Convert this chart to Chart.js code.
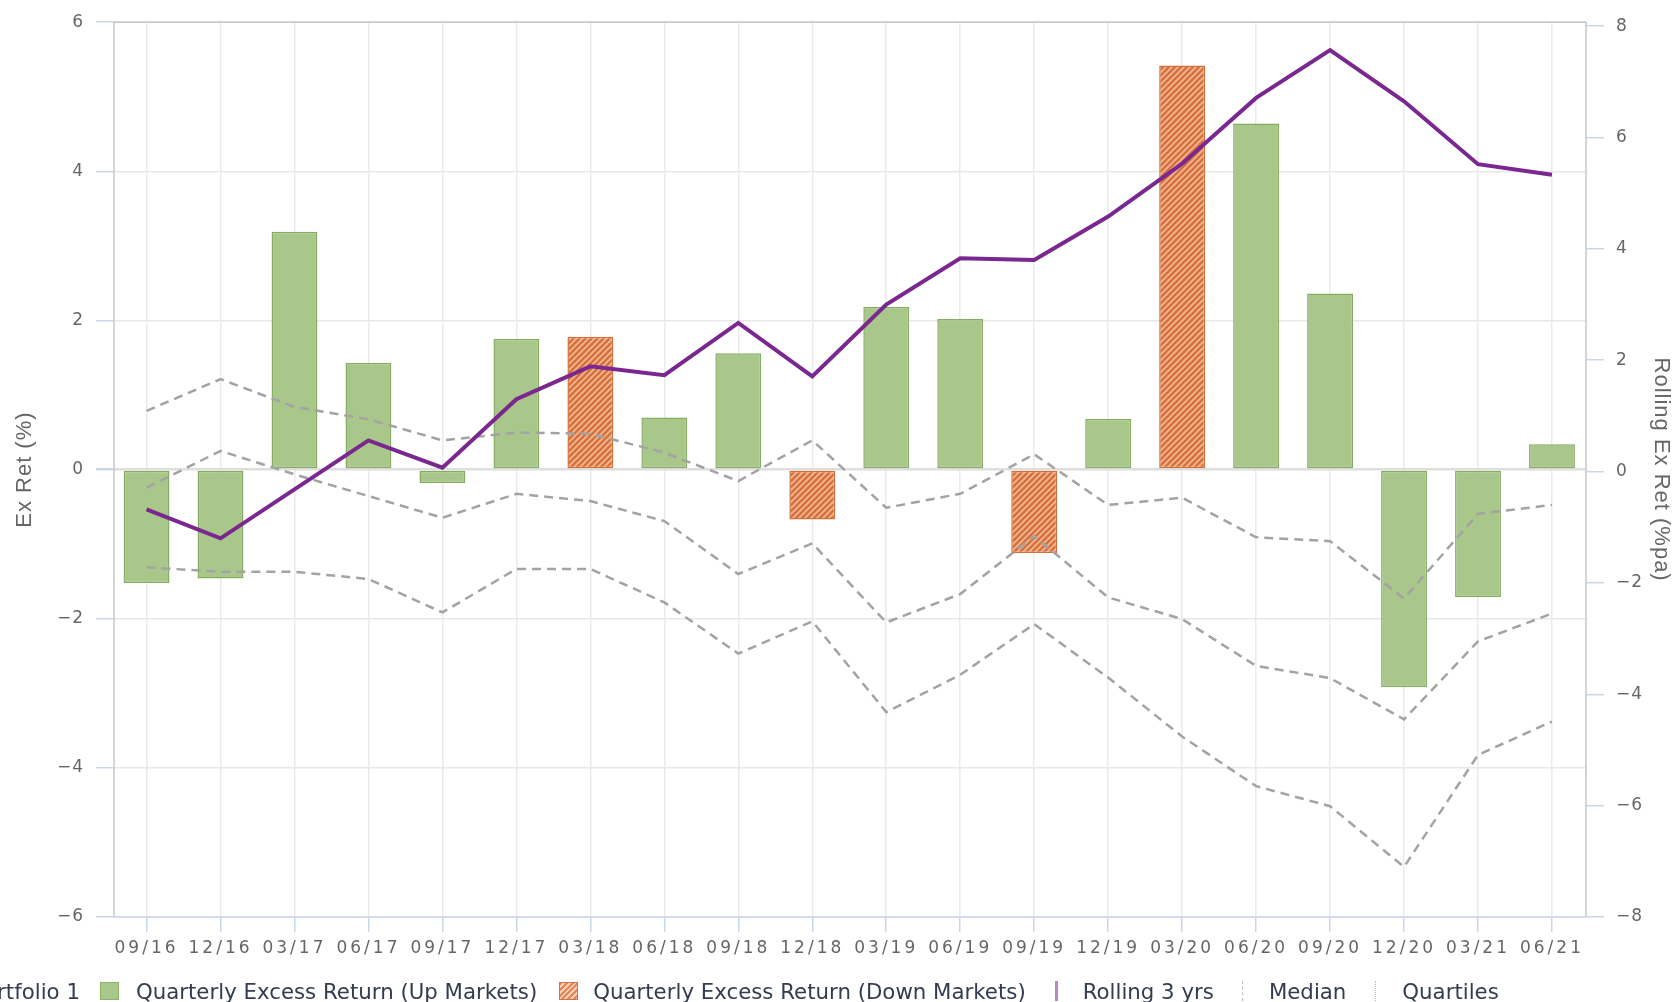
<!DOCTYPE html>
<html>
<head>
<meta charset="utf-8">
<script src="https://cdn.jsdelivr.net/npm/chart.js@4.4.1/dist/chart.umd.min.js"></script>
<style>
  html, body { margin: 0; padding: 0; background: #fff; overflow: hidden; }
  #wrap { position: relative; width: 1677px; height: 1002px; }
  #legend {
    position: absolute; left: -28px; top: 980px; height: 22px;
    display: flex; align-items: center; white-space: nowrap;
    font-family: "DejaVu Sans", Verdana, sans-serif; font-size: 21.3px; color: #333d4d;
  }
  #legend .item { display: flex; align-items: center; }
  #legend .sym { display: inline-block; flex: none; }
</style>
</head>
<body>
<div id="wrap">
  <canvas id="myChart" width="1677" height="1002"></canvas>
  <div id="legend"></div>
</div>
<script>
const quarters = ['09/16', '12/16', '03/17', '06/17', '09/17', '12/17', '03/18', '06/18', '09/18', '12/18',
                  '03/19', '06/19', '09/19', '12/19', '03/20', '06/20', '09/20', '12/20', '03/21', '06/21'];

// quarterly excess return (%), left axis
const upMarkets   = [-1.52, -1.46, 3.19, 1.43, -0.18, 1.75, null, 0.70, 1.56, null,
                     2.18, 2.02, null, 0.68, null, 4.64, 2.36, -2.92, -1.71, 0.34];
const downMarkets = [null, null, null, null, null, null, 1.78, null, null, -0.67,
                     null, null, -1.12, null, 5.42, null, null, null, null, null];

// rolling 3 yrs (%pa), right axis
const rolling3y     = [-0.68, -1.20, -0.32, 0.56, 0.07, 1.30, 1.89, 1.73, 2.67, 1.71,
                       3.00, 3.83, 3.80, 4.58, 5.53, 6.71, 7.57, 6.65, 5.52, 5.33];
const median        = [-0.29, 0.37, -0.05, -0.44, -0.83, -0.40, -0.53, -0.89, -1.84, -1.29,
                       -2.71, -2.20, -1.16, -2.26, -2.65, -3.49, -3.71, -4.45, -3.05, -2.55];
const upperQuartile = [1.09, 1.66, 1.16, 0.94, 0.56, 0.70, 0.68, 0.34, -0.17, 0.56,
                       -0.65, -0.40, 0.31, -0.60, -0.47, -1.18, -1.25, -2.28, -0.76, -0.60];
const lowerQuartile = [-1.72, -1.80, -1.80, -1.93, -2.53, -1.75, -1.75, -2.35, -3.27, -2.69,
                       -4.32, -3.65, -2.74, -3.70, -4.76, -5.65, -6.01, -7.10, -5.09, -4.49];

const leftTicks = [-6, -4, -2, 0, 2, 4, 6];
const rightTicks = [-8, -6, -4, -2, 0, 2, 4, 6, 8];

const tickFont = { family: '"DejaVu Sans", Verdana, sans-serif', size: 17 };
const titleFont = { family: '"Liberation Sans", Arial, sans-serif', size: 22 };
const gray = '#666666';

function hatchPattern() {
    const c = document.createElement('canvas');
    c.width = 6; c.height = 6;
    const g = c.getContext('2d');
    g.fillStyle = '#f1b692';
    g.fillRect(0, 0, 6, 6);
    g.strokeStyle = '#d6703b';
    g.lineWidth = 2.4;
    g.beginPath();
    g.moveTo(-1, 7); g.lineTo(7, -1);
    g.moveTo(-1, 1); g.lineTo(1, -1);
    g.moveTo(5, 7); g.lineTo(7, 5);
    g.stroke();
    return g.createPattern(c, 'repeat');
}

// letter spacing: wide on the x labels, small on y labels and titles
function withSpacing(fn, spacing) {
    return function () {
        const c = this.ctx;
        const prev = c.letterSpacing;
        c.letterSpacing = spacing;
        fn.apply(this, arguments);
        c.letterSpacing = prev;
    };
}
const spacingPlugin = {
    id: 'spacing',
    beforeUpdate(chart) { chart.ctx.letterSpacing = '3px'; },
    beforeDraw(chart) { chart.ctx.letterSpacing = '3px'; },
    afterLayout(chart) {
        Object.values(chart.scales).forEach(s => {
            if (s._spacingWrapped) return;
            s.drawTitle = withSpacing(s.drawTitle, '1px');
            if (s.axis === 'y') s.drawLabels = withSpacing(s.drawLabels, '1px');
            s._spacingWrapped = true;
        });
    }
};

const framePlugin = {
    id: 'frame',
    beforeDatasetsDraw(chart) {
        const { ctx, chartArea: a } = chart;
        ctx.save();
        ctx.lineWidth = 1.5;
        ctx.strokeStyle = '#c8c8c8';
        ctx.beginPath();
        ctx.moveTo(a.left, a.bottom);
        ctx.lineTo(a.left, a.top);
        ctx.lineTo(a.right, a.top);
        ctx.lineTo(a.right, a.bottom);
        ctx.stroke();
        ctx.strokeStyle = '#ccd6eb';
        ctx.beginPath();
        ctx.moveTo(a.left, a.bottom);
        ctx.lineTo(a.right, a.bottom);
        ctx.stroke();
        ctx.restore();
    }
};

const dashed = {
    type: 'line',
    yAxisID: 'y2',
    borderColor: '#a3a3a3',
    borderWidth: 2.5,
    borderDash: [9, 6],
    pointRadius: 0,
    fill: false,
    tension: 0,
    order: 1
};

const ctx = document.getElementById('myChart').getContext('2d');
const chart = new Chart(ctx, {
    type: 'bar',
    data: {
        labels: quarters.map((q, i) => i),
        datasets: [
            {
                type: 'line', label: 'Rolling 3 yrs', data: rolling3y, yAxisID: 'y2',
                borderColor: '#7a2790', borderWidth: 4, pointRadius: 0, fill: false, tension: 0, order: 0
            },
            Object.assign({}, dashed, { label: 'Median', data: median }),
            Object.assign({}, dashed, { label: 'Quartiles', data: upperQuartile }),
            Object.assign({}, dashed, { label: 'Quartiles', data: lowerQuartile }),
            {
                label: 'Quarterly Excess Return (Up Markets)', data: upMarkets, yAxisID: 'y',
                backgroundColor: '#a9c68b', borderColor: '#84ad62', borderWidth: 1.5, borderSkipped: false,
                grouped: false, barPercentage: 0.62, categoryPercentage: 1, order: 2
            },
            {
                label: 'Quarterly Excess Return (Down Markets)', data: downMarkets, yAxisID: 'y',
                backgroundColor: hatchPattern(), borderColor: '#d6703b', borderWidth: 1.5, borderSkipped: false,
                grouped: false, barPercentage: 0.62, categoryPercentage: 1, order: 2
            }
        ]
    },
    options: {
        responsive: false,
        animation: false,
        devicePixelRatio: 1,
        layout: { padding: { top: 19, left: 0, right: 0, bottom: 0 } },
        plugins: { legend: { display: false }, tooltip: { enabled: false } },
        scales: {
            x: {
                type: 'linear', min: -0.44, max: 19.46, offset: false,
                afterFit: s => { s.height = 85; },
                afterBuildTicks: axis => { axis.ticks = quarters.map((q, i) => ({ value: i })); },
                ticks: {
                    callback: v => quarters[v], autoSkip: false, maxRotation: 0, minRotation: 0,
                    font: tickFont, color: gray, padding: 6
                },
                grid: { offset: false, color: '#ebebeb', lineWidth: 1.5, tickLength: 15, tickColor: '#ccd6eb' },
                border: { display: false }
            },
            y: {
                position: 'left', min: -6, max: 6,
                afterFit: s => { s.width = 114; },
                afterBuildTicks: axis => { axis.ticks = leftTicks.map(v => ({ value: v })); },
                ticks: { callback: v => String(v).replace('-', '\u2212'), font: tickFont, color: gray, padding: 12 },
                grid: {
                    color: c => (c.tick && c.tick.value === 0) ? '#dedede' : '#e8e8e8',
                    lineWidth: c => (c.tick && c.tick.value === 0) ? 2.5 : 1.5,
                    tickLength: 18, tickColor: '#ccd6eb'
                },
                border: { display: false },
                title: { display: true, text: 'Ex Ret (%)', font: titleFont, color: gray, padding: { top: 12, bottom: 0 } }
            },
            y2: {
                position: 'right', min: -8, max: 8.07,
                afterFit: s => { s.width = 91; },
                afterBuildTicks: axis => { axis.ticks = rightTicks.map(v => ({ value: v })); },
                ticks: { callback: v => String(v).replace('-', '\u2212'), font: tickFont, color: gray, padding: 12 },
                grid: { drawOnChartArea: false, tickLength: 18, tickColor: '#ccd6eb', lineWidth: 1.5 },
                border: { display: false },
                title: { display: true, text: 'Rolling Ex Ret (%pa)', font: titleFont, color: gray, padding: { top: 3, bottom: 0 } }
            }
        }
    },
    plugins: [spacingPlugin, framePlugin]
});

// html legend, built from the dataset labels
const symbols = {
    'Quarterly Excess Return (Up Markets)': 'width:19px;height:18px;box-sizing:border-box;background:#a9c68b;border:1px solid #8ab36a;',
    'Quarterly Excess Return (Down Markets)': 'width:19px;height:18px;box-sizing:border-box;border:1px solid #d8733d;' +
        'background:repeating-linear-gradient(135deg,#e08a5c 0 2px,#f6cdb5 2px 4px);',
    'Rolling 3 yrs': 'width:3px;height:20px;background:#b58ac9;',
    'Median': 'width:0;height:20px;border-left:1.5px dashed #bdbdbd;',
    'Quartiles': 'width:0;height:20px;border-left:1.5px dotted #bdbdbd;'
};
const legendOrder = [4, 5, 0, 1, 2];
const textGap = [17, 15, 25, 26, 26];
const itemGap = [22, 29, 28, 29, 0];
const legendEl = document.getElementById('legend');
let html = '<span style="margin-right:20px">Portfolio 1</span>';
legendOrder.forEach((idx, n) => {
    const label = chart.data.datasets[idx].label;
    html += '<span class="item" style="margin-right:' + itemGap[n] + 'px">' +
            '<span class="sym" style="' + symbols[label] + '"></span>' +
            '<span style="margin-left:' + textGap[n] + 'px">' + label + '</span></span>';
});
legendEl.innerHTML = html;
</script>
</body>
</html>
